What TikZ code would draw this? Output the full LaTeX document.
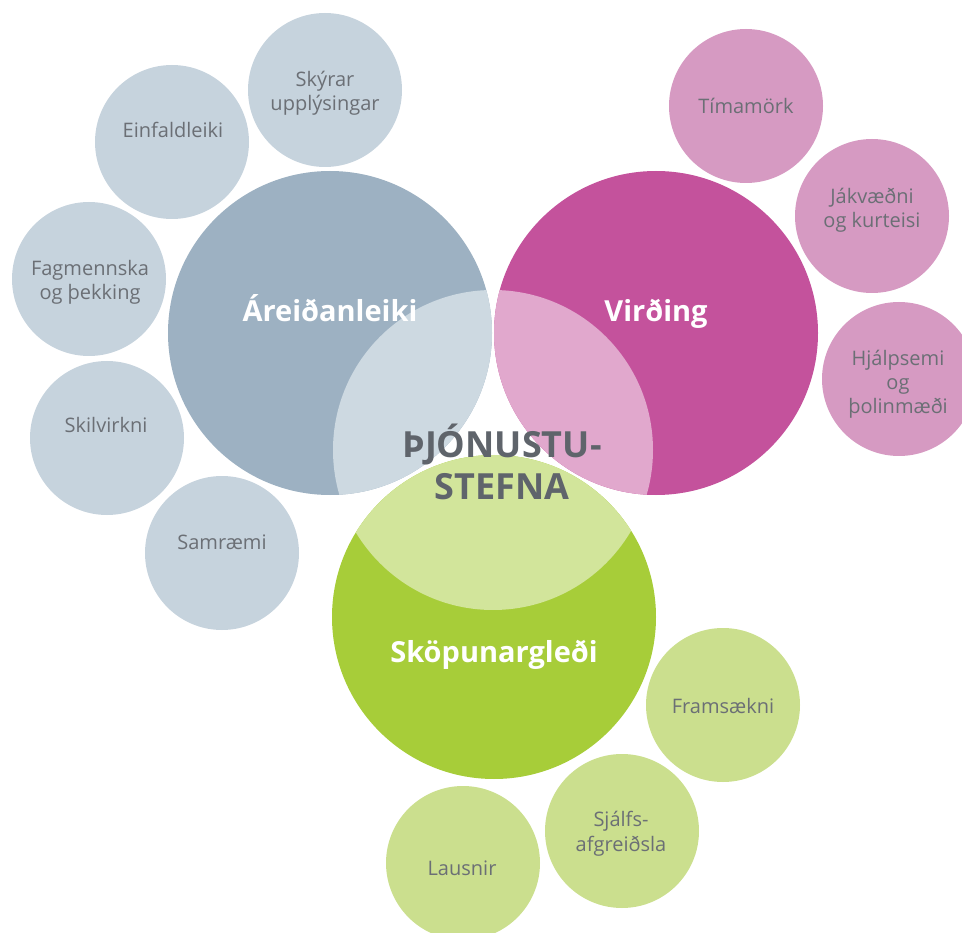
\documentclass[tikz,border=0pt]{standalone}
\usepackage{fontspec}
\setmainfont{Open Sans}
\usepackage{xcolor}
\usetikzlibrary{shapes,positioning}
\definecolor{areidDark}{HTML}{9DB1C2}
\definecolor{areidLight}{HTML}{CDD9E1}
\definecolor{areidSmall}{HTML}{C6D3DD}
\definecolor{virdDark}{HTML}{C4529C}
\definecolor{virdLight}{HTML}{E1A8CD}
\definecolor{virdSmall}{HTML}{D69AC2}
\definecolor{skopDark}{HTML}{A7CD39}
\definecolor{skopLight}{HTML}{D2E59B}
\definecolor{skopSmall}{HTML}{CBDF8E}
\definecolor{txtGrey}{HTML}{6B6F75}
\definecolor{coreGrey}{HTML}{5F646B}
\tikzset{big/.style={circle,minimum size=324pt,inner sep=0pt}}
\tikzset{small/.style={circle,minimum size=154pt,inner sep=0pt}}
\tikzset{smalltxt/.style={anchor=base,align=center,text=txtGrey,font=\fontsize{20}{24.5}\selectfont}}
\tikzset{bigtxt/.style={anchor=base,text=white,font=\fontsize{29}{34}\selectfont\bfseries}}
\tikzset{coretxt/.style={anchor=base,align=center,text=coreGrey,font=\fontsize{36}{42}\selectfont\bfseries}}

\begin{document}
\begin{tikzpicture}[x=1pt,y=-1pt]
    \useasboundingbox (0,0) rectangle (962,933);

    \node[small,fill=areidSmall] (skyr)at (325,90) {};
    \node[small,fill=areidSmall] (einf)at (172,142) {};
    \node[small,fill=areidSmall] (fagm)at (89,279) {};
    \node[small,fill=areidSmall] (skil)at (107,438) {};
    \node[small,fill=areidSmall] (samr)at (222,553) {};

    \node[small,fill=virdSmall] (tima)at (746,106) {};
    \node[small,fill=virdSmall] (jakv)at (872,216) {};
    \node[small,fill=virdSmall] (hjal)at (899,379) {};

    \node[small,fill=skopSmall] (fram)at (723,705) {};
    \node[small,fill=skopSmall] (sjal)at (622,831) {};
    \node[small,fill=skopSmall] (laus)at (463,863) {};

    \node[big,fill=areidDark] (areid)at (330,333) {};
    \node[big,fill=virdDark] (vird)at (656,333) {};
    \node[big,fill=skopDark] (skop)at (494,617) {};
    \coordinate (core) at (493,450);

    \begin{scope}
        \clip (core) circle (160pt);
        \fill[areidLight] (areid) circle (162pt);
        \fill[virdLight] (vird) circle (162pt);
        \fill[skopLight] (skop) circle (162pt);
    \end{scope}

    \node[bigtxt] (areidtxt)at (330,322) {Áreiðanleiki};
    \node[bigtxt] (virdtxt)at (656,322) {Virðing};
    \node[bigtxt] (skoptxt)at (494,662) {Sköpunargleði};
    \node[coretxt] (coretxt)at (502,499) {ÞJÓNUSTU-\\STEFNA};

    \node[smalltxt] (skyrtxt)at (325,111) {Skýrar\\upplýsingar};
    \node[smalltxt] (einftxt)at (173,138) {Einfaldleiki};
    \node[smalltxt] (fagmtxt)at (90,300) {Fagmennska\\og þekking};
    \node[smalltxt] (skiltxt)at (106,433) {Skilvirkni};
    \node[smalltxt] (samrtxt)at (222,549) {Samræmi};
    \node[smalltxt] (timatxt)at (746,114) {Tímamörk};
    \node[smalltxt] (jakvtxt)at (872,228) {Jákvæðni\\og kurteisi};
    \node[smalltxt] (hjaltxt)at (898,414) {Hjálpsemi\\og\\þolinmæði};
    \node[smalltxt] (framtxt)at (723,713) {Framsækni};
    \node[smalltxt] (sjaltxt)at (621,851) {Sjálfs-\\afgreiðsla};
    \node[smalltxt] (laustxt)at (462,875) {Lausnir};
\end{tikzpicture}
\end{document}
